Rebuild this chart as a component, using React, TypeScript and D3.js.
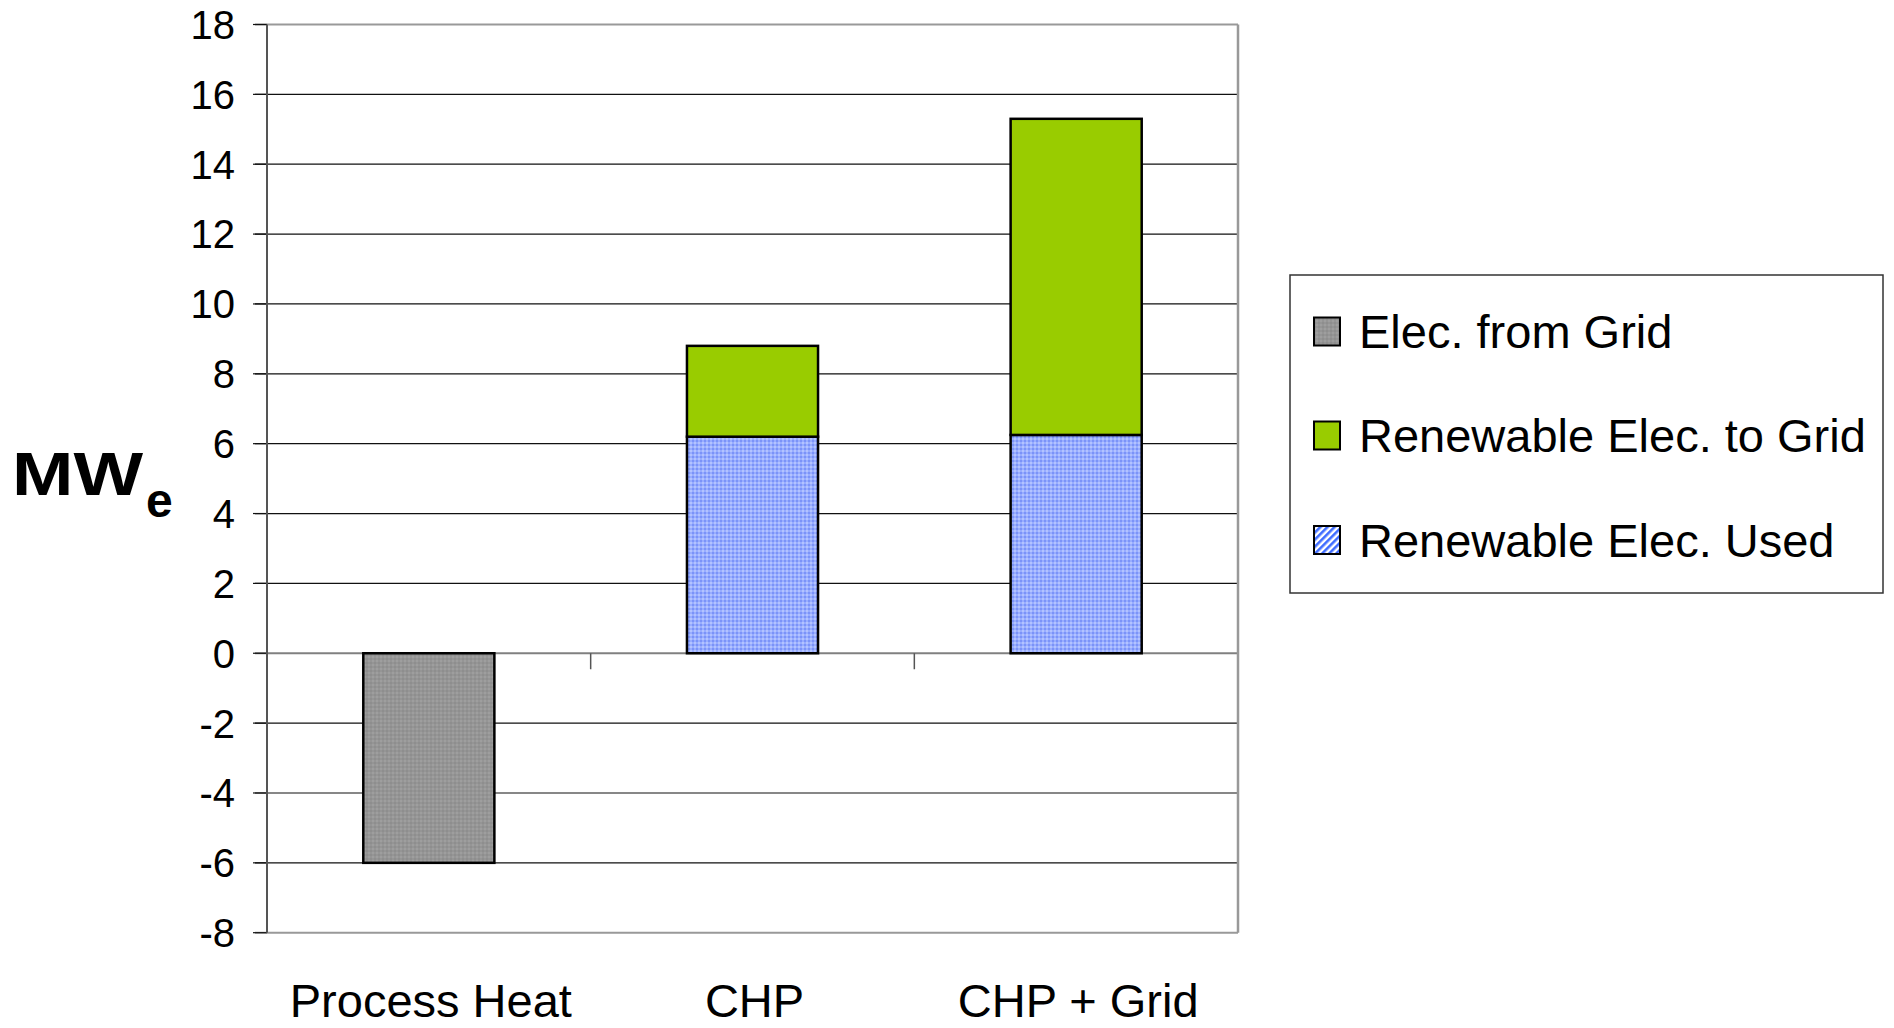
import React from "react";
import * as d3 from "d3";

const categories = ["Process Heat", "CHP", "CHP + Grid"];
const elecFromGrid = [-6, 0, 0];
const renewableUsed = [0, 6.2, 6.25];
const renewableToGrid = [0, 2.6, 9.05];
const yTicks = [18, 16, 14, 12, 10, 8, 6, 4, 2, 0, -2, -4, -6, -8];
const legendLabels = ["Elec. from Grid", "Renewable Elec. to Grid", "Renewable Elec. Used"];

const FONT = "'Liberation Sans', Arial, Helvetica, sans-serif";

export default function App() {
  const W = 1894, H = 1028;
  const left = 267, right = 1238, top = 24.5, bottom = 932.7;
  const y = d3.scaleLinear().domain([-8, 18]).range([bottom, top]);
  const x = d3.scaleBand<string>().domain(categories).range([left, right]).paddingInner(0.595).paddingOuter(0.2975);
  const bw = x.bandwidth();
  const step = x.step();
  const y0 = y(0);

  const bars: { x: number; y0: number; y1: number; fill: string }[] = [];
  categories.forEach((c, i) => {
    if (elecFromGrid[i] !== 0) bars.push({ x: x(c)!, y0: 0, y1: elecFromGrid[i], fill: "url(#grayPat)" });
    if (renewableUsed[i] !== 0) bars.push({ x: x(c)!, y0: 0, y1: renewableUsed[i], fill: "url(#bluePat)" });
    if (renewableToGrid[i] !== 0)
      bars.push({ x: x(c)!, y0: renewableUsed[i], y1: renewableUsed[i] + renewableToGrid[i], fill: "#99CC00" });
  });

  const legendFills = ["url(#grayPat)", "#99CC00", "url(#blueHatch)"];
  const legendCy = [331.5, 435.5, 540];

  return (
    <svg width={W} height={H} style={{ position: "absolute", left: 0, top: 0, background: "#fff" }} fontFamily={FONT}>
      <defs>
        <pattern id="grayPat" width="4" height="4" patternUnits="userSpaceOnUse">
          <rect width="4" height="4" fill="#959595" />
          <rect x="0" y="0" width="2" height="2" fill="#9e9e9e" />
          <rect x="2" y="2" width="2" height="2" fill="#8e8e8e" />
        </pattern>
        <pattern id="bluePat" width="4" height="4" patternUnits="userSpaceOnUse">
          <rect width="4" height="4" fill="#98adff" />
          <rect x="0" y="0" width="2" height="2" fill="#7b93f8" />
          <rect x="2" y="2" width="2" height="2" fill="#b3c3ff" />
        </pattern>
        <pattern id="blueHatch" width="5" height="5" patternUnits="userSpaceOnUse" patternTransform="rotate(45)">
          <rect width="5" height="5" fill="#ffffff" />
          <rect width="2.6" height="5" fill="#3f6cff" />
        </pattern>
      </defs>

      {yTicks.map((t) => (
        <line key={"g" + t} x1={left - 12} x2={right} y1={y(t)} y2={y(t)}
          stroke={t === 18 || t === -8 ? "#999" : t === 0 ? "#808080" : "#111"}
          strokeWidth={t === 18 || t === -8 || t === 0 ? 2 : 1.2} />
      ))}
      {yTicks.map((t) => (
        <line key={"t" + t} x1={left - 14} x2={left} y1={y(t)} y2={y(t)} stroke="#111" strokeWidth={1.2} />
      ))}
      <line x1={right} x2={right} y1={top} y2={bottom} stroke="#999" strokeWidth={2.5} />
      <line x1={left} x2={left} y1={top} y2={bottom} stroke="#555" strokeWidth={2} />
      {categories.slice(1).map((c) => (
        <line key={"ct" + c} x1={x(c)! - (step - bw) / 2} x2={x(c)! - (step - bw) / 2} y1={y0} y2={y0 + 16} stroke="#555" strokeWidth={1.5} />
      ))}

      {bars.map((b, i) => (
        <rect key={i} x={b.x} width={bw} y={Math.min(y(b.y0), y(b.y1))} height={Math.abs(y(b.y0) - y(b.y1))}
          fill={b.fill} stroke="#000" strokeWidth={2.5} />
      ))}

      {yTicks.map((t) => (
        <text key={"l" + t} x={235} y={y(t)} dy="0.36em" textAnchor="end" fontSize={40} fill="#000">
          {t}
        </text>
      ))}

      {categories.map((c) => (
        <text key={"x" + c} x={x(c)! + bw / 2 + 2} y={1017} textAnchor="middle" fontSize={47} fill="#000">
          {c}
        </text>
      ))}

      <text x={12} y={495} fontSize={62} fontWeight="bold" fill="#000" textLength={131} lengthAdjust="spacingAndGlyphs">
        MW
      </text>
      <text x={146} y={517} fontSize={48} fontWeight="bold" fill="#000">e</text>

      <rect x={1290} y={275} width={593} height={318} fill="#fff" stroke="#333" strokeWidth={1.5} />
      {legendLabels.map((l, i) => (
        <g key={l}>
          <rect x={1314} y={legendCy[i] - 14} width={26} height={28} fill={legendFills[i]} stroke="#000" strokeWidth={2} />
          <text x={1359} y={legendCy[i]} dy="0.36em" fontSize={47} fill="#000">
            {l}
          </text>
        </g>
      ))}
    </svg>
  );
}
